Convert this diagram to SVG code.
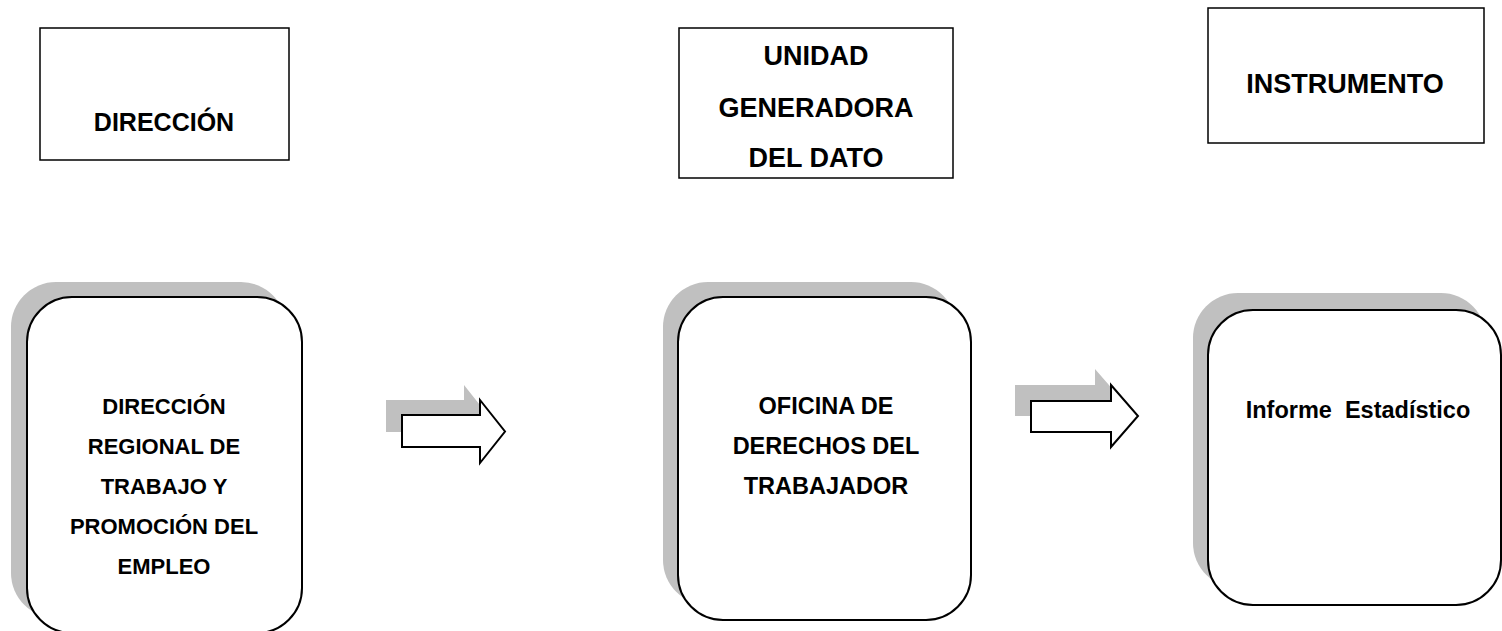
<svg xmlns="http://www.w3.org/2000/svg" width="1502" height="631" viewBox="0 0 1502 631">
<style>
.hdr{fill:#fff;stroke:#000;stroke-width:1.5}
.card{fill:#fff;stroke:#000;stroke-width:2}
.shadow{fill:#c0c0c0;stroke:none}
.arrow{fill:#fff;stroke:#000;stroke-width:2}
.t1{font-family:"Liberation Sans",Arial,sans-serif;font-weight:bold;font-size:27px;fill:#000;text-anchor:middle}
.t2{font-family:"Liberation Sans",Arial,sans-serif;font-weight:bold;font-size:22px;fill:#000;text-anchor:middle}
.t3{font-family:"Liberation Sans",Arial,sans-serif;font-weight:bold;font-size:23.5px;fill:#000;text-anchor:middle}
</style>
<rect width="1502" height="631" fill="#fff"/>
<g id="hdr-direccion">
<rect class="hdr" x="40" y="28" width="249" height="132"/>
<text class="t1" x="164" y="131" style="font-size:25px">DIRECCIÓN</text>
</g>
<g id="hdr-unidad">
<rect class="hdr" x="679" y="28" width="274" height="150"/>
<text class="t1" x="816" y="65">UNIDAD</text>
<text class="t1" x="816" y="117">GENERADORA</text>
<text class="t1" x="816" y="167">DEL DATO</text>
</g>
<g id="hdr-instrumento">
<rect class="hdr" x="1208" y="8" width="276" height="135"/>
<text class="t1" x="1345" y="93">INSTRUMENTO</text>
</g>
<g id="node-direccion-regional">
<rect class="shadow" x="11" y="282" width="275" height="336" rx="45" ry="45"/>
<rect class="card" x="27" y="297" width="275" height="336" rx="45" ry="45"/>
<text class="t2" x="164" y="414">DIRECCIÓN</text>
<text class="t2" x="164" y="454">REGIONAL DE</text>
<text class="t2" x="164" y="494">TRABAJO Y</text>
<text class="t2" x="164" y="534">PROMOCIÓN DEL</text>
<text class="t2" x="164" y="574">EMPLEO</text>
</g>
<g id="node-oficina">
<rect class="shadow" x="663" y="282" width="293" height="323" rx="45" ry="45"/>
<rect class="card" x="678" y="297" width="293" height="323" rx="45" ry="45"/>
<text class="t3" x="826" y="414">OFICINA DE</text>
<text class="t3" x="826" y="454">DERECHOS DEL</text>
<text class="t3" x="826" y="494">TRABAJADOR</text>
</g>
<g id="node-informe">
<rect class="shadow" x="1193" y="293" width="293" height="295" rx="45" ry="45"/>
<rect class="card" x="1208" y="310" width="293" height="295" rx="45" ry="45"/>
<text class="t3" x="1358" y="418" xml:space="preserve">Informe  Estadístico</text>
</g>
<g id="connectors">
<polygon class="shadow" points="386,400 464,400 464,385 489,416.5 464,448 464,432 386,432"/>
<polygon class="arrow" points="402,415 480,415 480,400 505,431.5 480,463 480,447 402,447"/>
<polygon class="shadow" points="1015,385 1095,385 1095,369 1122,400 1095,431 1095,416 1015,416"/>
<polygon class="arrow" points="1031,401 1111,401 1111,385 1138,416 1111,447 1111,432 1031,432"/>
</g>
</svg>
